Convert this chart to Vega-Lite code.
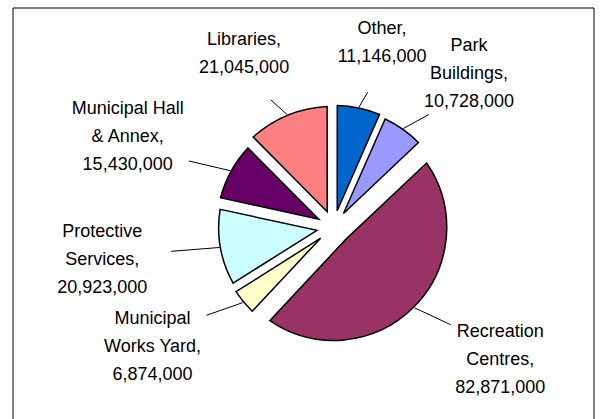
{
  "$schema": "https://vega.github.io/schema/vega-lite/v6.json",
  "width": 581,
  "height": 414,
  "autosize": "none",
  "padding": {"left": 12.5, "top": 7.5, "right": 6.5, "bottom": -3},
  "background": "white",
  "config": {"view": {"stroke": "black", "strokeWidth": 1}},
  "data": {
    "values": [
      {"idx": 0, "category": "Other", "value": 11146000, "label": "Other,\n11,146,000"},
      {"idx": 1, "category": "Park Buildings", "value": 10728000, "label": "Park\nBuildings,\n10,728,000"},
      {"idx": 2, "category": "Recreation Centres", "value": 82871000, "label": "Recreation\nCentres,\n82,871,000"},
      {"idx": 3, "category": "Municipal Works Yard", "value": 6874000, "label": "Municipal\nWorks Yard,\n6,874,000"},
      {"idx": 4, "category": "Protective Services", "value": 20923000, "label": "Protective\nServices,\n20,923,000"},
      {"idx": 5, "category": "Municipal Hall & Annex", "value": 15430000, "label": "Municipal Hall\n& Annex,\n15,430,000"},
      {"idx": 6, "category": "Libraries", "value": 21045000, "label": "Libraries,\n21,045,000"}
    ]
  },
  "layer": [
    {
      "mark": {
        "type": "arc",
        "radius": {"expr": "[122,120,113,117,115,117,121][datum.idx]"},
        "radius2": 17,
        "padAngle": {"expr": "[0.058,0.057,0.300,0.0375,0.1125,0.0825,0.1075][datum.idx]"},
        "stroke": "black",
        "strokeWidth": 1.5,
        "strokeJoin": "miter"
      },
      "encoding": {
        "x": {"value": {"expr": "width/2+30.7"}},
        "y": {"value": {"expr": "height/2+12.9"}},
        "theta": {"field": "value", "type": "quantitative", "stack": true, "scale": {"zero": true, "nice": false}},
        "order": {"field": "idx", "type": "quantitative", "sort": "ascending"},
        "color": {
          "field": "category",
          "type": "nominal",
          "legend": null,
          "scale": {
            "domain": ["Other", "Park Buildings", "Recreation Centres", "Municipal Works Yard", "Protective Services", "Municipal Hall & Annex", "Libraries"],
            "range": ["#0066CC", "#9999FF", "#993366", "#FFFFCC", "#CCFFFF", "#660066", "#FF8080"]
          }
        }
      }
    },
    {
      "transform": [
        {"stack": "value", "groupby": [], "sort": [{"field": "idx", "order": "ascending"}], "as": ["v0", "v1"]}
      ],
      "mark": {"type": "rule", "color": "black", "strokeWidth": 1},
      "encoding": {
        "x": {"value": {"expr": "width/2+30.7+([122,120,113,117,115,117,121][datum.idx]+1)*sin(scale('theta',(datum.v0+datum.v1)/2))"}},
        "y": {"value": {"expr": "height/2+12.9-([122,120,113,117,115,117,121][datum.idx]+1)*cos(scale('theta',(datum.v0+datum.v1)/2))"}},
        "x2": {"value": {"expr": "width/2+30.7+165*sin(scale('theta',(datum.v0+datum.v1)/2))"}},
        "y2": {"value": {"expr": "height/2+12.9-138*cos(scale('theta',(datum.v0+datum.v1)/2))"}}
      }
    },
    {
      "transform": [
        {"stack": "value", "groupby": [], "sort": [{"field": "idx", "order": "ascending"}], "as": ["v0", "v1"]}
      ],
      "mark": {
        "type": "text",
        "font": "Liberation Sans",
        "fontSize": 18,
        "lineHeight": 28,
        "lineBreak": "\n",
        "align": "center",
        "baseline": "middle",
        "color": "black",
        "dy": {"expr": "(datum.idx == 0 || datum.idx == 6) ? -14 : -28"}
      },
      "encoding": {
        "x": {"value": {"expr": "width/2+30.7+235*sin(scale('theta',(datum.v0+datum.v1)/2))"}},
        "y": {"value": {"expr": "height/2+12.9-188*cos(scale('theta',(datum.v0+datum.v1)/2))"}},
        "text": {"field": "label"}
      }
    }
  ]
}
